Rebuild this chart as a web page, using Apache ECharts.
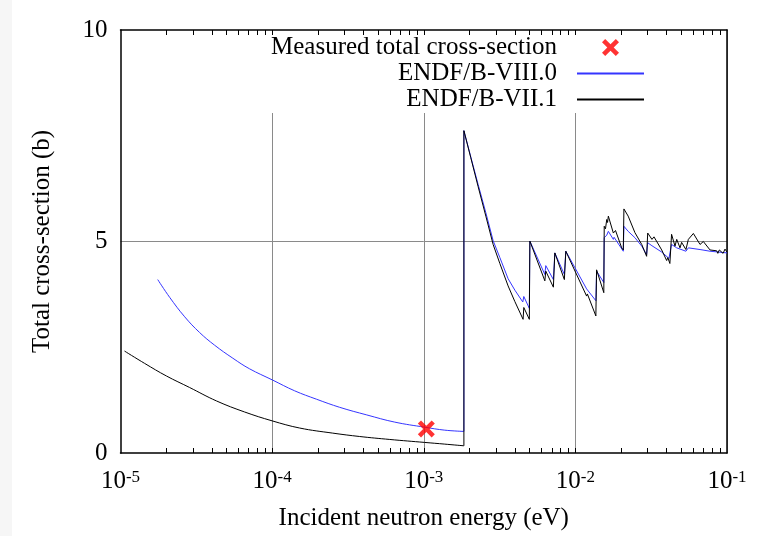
<!DOCTYPE html>
<html>
<head>
<meta charset="utf-8">
<script src="https://cdn.jsdelivr.net/npm/echarts@6/dist/echarts.min.js"></script>
<style>
html,body{margin:0;padding:0;background:#fff;}
#chart{width:762px;height:536px;}
</style>
</head>
<body>
<div id="chart"></div>
<script>
// ---- Data (energies in eV, cross-sections in barns) ----
const seriesNames = ['Measured total cross-section', 'ENDF/B-VIII.0', 'ENDF/B-VII.1'];

const measuredE = [1.04e-3];
const measuredXS = [0.57];

// ENDF/B-VIII.0 : smooth 1/v part below the edge, then the sawtooth part
const endf80LowE = [1.76e-5, 2.11e-5, 2.65e-5, 3.32e-5, 4.17e-5, 5.51e-5, 7.10e-5, 1.0e-4, 1.408e-4,
  1.967e-4, 2.79e-4, 4.21e-4, 6.44e-4, 1.015e-3, 1.376e-3, 1.84e-3];
const endf80LowXS = [4.10, 3.68, 3.22, 2.85, 2.55, 2.24, 1.99, 1.73, 1.47,
  1.27, 1.08, 0.90, 0.73, 0.61, 0.54, 0.51];
const endf80HighE = [1.84e-3,
  1.84e-3, 2.043e-3, 2.283e-3, 2.567e-3, 2.868e-3, 3.176e-3, 3.60e-3, 3.99e-3, 4.50e-3,
  4.57e-3, 4.97e-3,
  5.01e-3, 6.29e-3, 6.38e-3, 7.16e-3, 7.32e-3, 8.46e-3, 8.65e-3, 1.186e-2, 1.20e-2,
  1.365e-2, 1.38e-2, 1.54e-2, 1.55e-2, 1.61e-2, 1.65e-2, 1.78e-2, 1.80e-2, 2.07e-2,
  2.09e-2, 2.23e-2, 2.47e-2, 2.74e-2, 2.95e-2, 3.00e-2, 3.20e-2, 3.71e-2, 4.14e-2,
  4.31e-2, 4.66e-2, 5.36e-2, 5.56e-2, 6.64e-2, 7.73e-2, 0.1];
const endf80HighXS = [0.51,
  7.62, 7.00, 6.35, 5.68, 5.02, 4.62, 4.12, 3.85, 3.57,
  3.70, 3.42,
  5.01, 4.22, 4.43, 4.10, 4.73, 4.22, 4.77, 3.88, 3.92,
  3.60, 4.30, 4.03, 5.09, 5.15, 5.24, 5.05, 5.10, 4.77,
  5.36, 5.24, 5.09, 4.89, 4.69, 4.97, 4.90, 4.75, 4.60,
  4.93, 4.85, 4.77, 4.85, 4.81, 4.77, 4.73];

// ENDF/B-VII.1
const endf71LowE = [1.063e-5, 1.44e-5, 2.01e-5, 2.85e-5, 4.30e-5, 6.58e-5, 1.0e-4, 1.52e-4, 2.51e-4,
  3.78e-4, 5.97e-4, 1.015e-3, 1.376e-3, 1.84e-3];
const endf71LowXS = [2.41, 2.12, 1.82, 1.55, 1.23, 0.97, 0.76, 0.59, 0.47,
  0.39, 0.32, 0.25, 0.21, 0.17];
const endf71HighE = [1.84e-3,
  1.84e-3, 2.043e-3, 2.283e-3, 2.567e-3, 2.868e-3, 3.176e-3, 3.60e-3, 3.99e-3, 4.52e-3,
  4.57e-3, 4.97e-3,
  5.01e-3, 6.29e-3, 6.38e-3, 7.16e-3, 7.32e-3, 8.46e-3, 8.65e-3, 1.186e-2, 1.20e-2,
  1.365e-2, 1.38e-2, 1.54e-2, 1.55e-2, 1.58e-2, 1.61e-2, 1.63e-2, 1.65e-2, 1.78e-2,
  1.84e-2, 2.02e-2, 2.07e-2, 2.09e-2, 2.23e-2, 2.47e-2, 2.74e-2, 2.95e-2, 3.00e-2,
  3.20e-2, 3.30e-2, 3.71e-2, 4.00e-2, 4.07e-2, 4.20e-2, 4.31e-2, 4.54e-2, 4.66e-2,
  4.90e-2, 5.02e-2, 5.36e-2, 5.56e-2, 6.00e-2, 6.64e-2, 6.98e-2, 7.73e-2, 8.55e-2,
  8.70e-2, 8.90e-2, 9.42e-2, 9.70e-2, 0.1];
const endf71HighXS = [0.17,
  7.62, 6.98, 6.30, 5.60, 4.93, 4.48, 3.95, 3.58, 3.16,
  3.44, 3.16,
  5.01, 4.07, 4.30, 3.92, 4.73, 4.10, 4.77, 3.71, 3.76,
  3.24, 4.33, 3.79, 5.36, 5.30, 5.52, 5.45, 5.60, 5.20,
  5.26, 4.85, 4.80, 5.77, 5.60, 5.21, 4.93, 4.65, 5.20,
  5.05, 5.11, 4.80, 4.55, 4.62, 4.48, 5.17, 4.89, 5.05,
  4.85, 4.98, 4.81, 5.05, 5.19, 4.93, 5.00, 4.80, 4.78,
  4.72, 4.80, 4.72, 4.82, 4.75];

// ---- Axis ticks ----
const xMajorTicks = [1e-5, 1e-4, 1e-3, 1e-2, 1e-1];
const xDecades = [1e-5, 1e-4, 1e-3, 1e-2];
const xMinorMultipliers = [2, 3, 4, 5, 6, 7, 8, 9];
const yTicks = [0, 5, 10];

const xTickMarks = [];
xDecades.forEach(d => xMinorMultipliers.forEach(m => xTickMarks.push(+(m * d).toPrecision(6))));
[1e-4, 1e-3, 1e-2].forEach(v => xTickMarks.push(v));

const FONT = 'Liberation Serif';
const zip = (a, b) => a.map((v, i) => [v, b[i]]);

const xPath = 'path://M0,3 L3,0 L8,5 L13,0 L16,3 L11,8 L16,13 L13,16 L8,11 L3,16 L0,13 L5,8 Z';

const chart = echarts.init(document.getElementById('chart'), null, {renderer: 'canvas'});

const frameLine = {show: true, onZero: false, lineStyle: {color: '#000', width: 1.5}};
const gridLine = {color: '#8a8a8a', width: 1};
const BLUE = '#3535ff';

const option = {
  backgroundColor: '#fff',
  animation: false,
  textStyle: {fontFamily: FONT},
  grid: {left: 120.5, right: 35, top: 30, bottom: 82, containLabel: false},
  legend: {
    data: [
      {name: seriesNames[0]},
      {name: seriesNames[1], itemStyle: {opacity: 0}},
      {name: seriesNames[2], itemStyle: {opacity: 0}}
    ],
    orient: 'vertical',
    align: 'right',
    right: 38,
    top: 35,
    itemWidth: 67,
    itemHeight: 17,
    itemGap: 1,
    padding: [0, 79, 1, 8],
    backgroundColor: '#fff',
    textStyle: {fontFamily: FONT, fontSize: 25, color: '#000', padding: [0, 15, 0, 0]},
    selectedMode: false
  },
  xAxis: [{
    type: 'log', logBase: 10, min: 1e-5, max: 0.1, position: 'bottom',
    axisLine: frameLine,
    axisTick: {show: true, inside: true, length: 5, customValues: xTickMarks, lineStyle: {color: '#000', width: 1}},
    axisLabel: {
      customValues: xMajorTicks,
      margin: 16,
      formatter: v => '{b|10}{s|' + Math.round(Math.log10(v)) + '}',
      rich: {
        b: {fontFamily: FONT, fontSize: 25, color: '#000', lineHeight: 25},
        s: {fontFamily: FONT, fontSize: 17, color: '#000', verticalAlign: 'top', lineHeight: 25}
      }
    },
    splitLine: {show: false},
    name: 'Incident neutron energy (eV)',
    nameLocation: 'middle',
    nameGap: 53,
    nameTextStyle: {fontFamily: FONT, fontSize: 25, color: '#000'}
  }, {
    type: 'log', logBase: 10, min: 1e-5, max: 0.1, position: 'top',
    axisLine: frameLine,
    axisTick: {show: true, inside: true, length: 5, customValues: xTickMarks, lineStyle: {color: '#000', width: 1}},
    axisLabel: {show: false},
    splitLine: {show: false}
  }, {
    // decade grid lines only
    type: 'log', logBase: 10, min: 1e-5, max: 0.1, position: 'bottom',
    axisLine: {show: false},
    axisTick: {show: false},
    axisLabel: {show: false},
    splitLine: {show: true, showMinLine: false, showMaxLine: false, lineStyle: gridLine}
  }],
  yAxis: [{
    type: 'value', min: 0, max: 10, interval: 5, position: 'left',
    axisLine: frameLine,
    axisTick: {show: false},
    axisLabel: {
      customValues: yTicks,
      margin: 13, fontFamily: FONT, fontSize: 25, color: '#000'
    },
    splitLine: {show: true, showMinLine: false, showMaxLine: false, lineStyle: gridLine},
    name: 'Total cross-section (b)',
    nameLocation: 'middle',
    nameGap: 66,
    nameTextStyle: {fontFamily: FONT, fontSize: 25, color: '#000'}
  }, {
    type: 'value', min: 0, max: 10, interval: 5, position: 'right',
    axisLine: frameLine,
    axisTick: {show: false},
    axisLabel: {show: false},
    splitLine: {show: false}
  }],
  graphic: [{
    type: 'rect', left: 0, top: 0, shape: {x: 0, y: 0, width: 12, height: 536},
    style: {fill: '#f6f6f6'}, silent: true, z: -1
  }],
  series: [{
    name: seriesNames[1],
    type: 'line',
    data: zip(endf80LowE, endf80LowXS),
    symbol: 'none',
    smooth: 0.4,
    lineStyle: {color: BLUE, width: 1},
    itemStyle: {color: BLUE},
    z: 2
  }, {
    name: seriesNames[1],
    type: 'line',
    data: zip(endf80HighE, endf80HighXS),
    symbol: 'none',
    lineStyle: {color: BLUE, width: 1},
    itemStyle: {color: BLUE},
    z: 2
  }, {
    name: seriesNames[2],
    type: 'line',
    data: zip(endf71LowE, endf71LowXS),
    symbol: 'none',
    smooth: 0.4,
    lineStyle: {color: '#000', width: 1},
    itemStyle: {color: '#000'},
    z: 3
  }, {
    name: seriesNames[2],
    type: 'line',
    data: zip(endf71HighE, endf71HighXS),
    symbol: 'none',
    lineStyle: {color: '#000', width: 1},
    itemStyle: {color: '#000'},
    z: 3
  }, {
    name: seriesNames[0],
    type: 'scatter',
    data: zip(measuredE, measuredXS),
    symbol: xPath,
    symbolSize: 17,
    symbolKeepAspect: true,
    itemStyle: {color: '#ff0000'},
    z: 5
  }]
};
chart.setOption(option);
</script>
</body>
</html>
